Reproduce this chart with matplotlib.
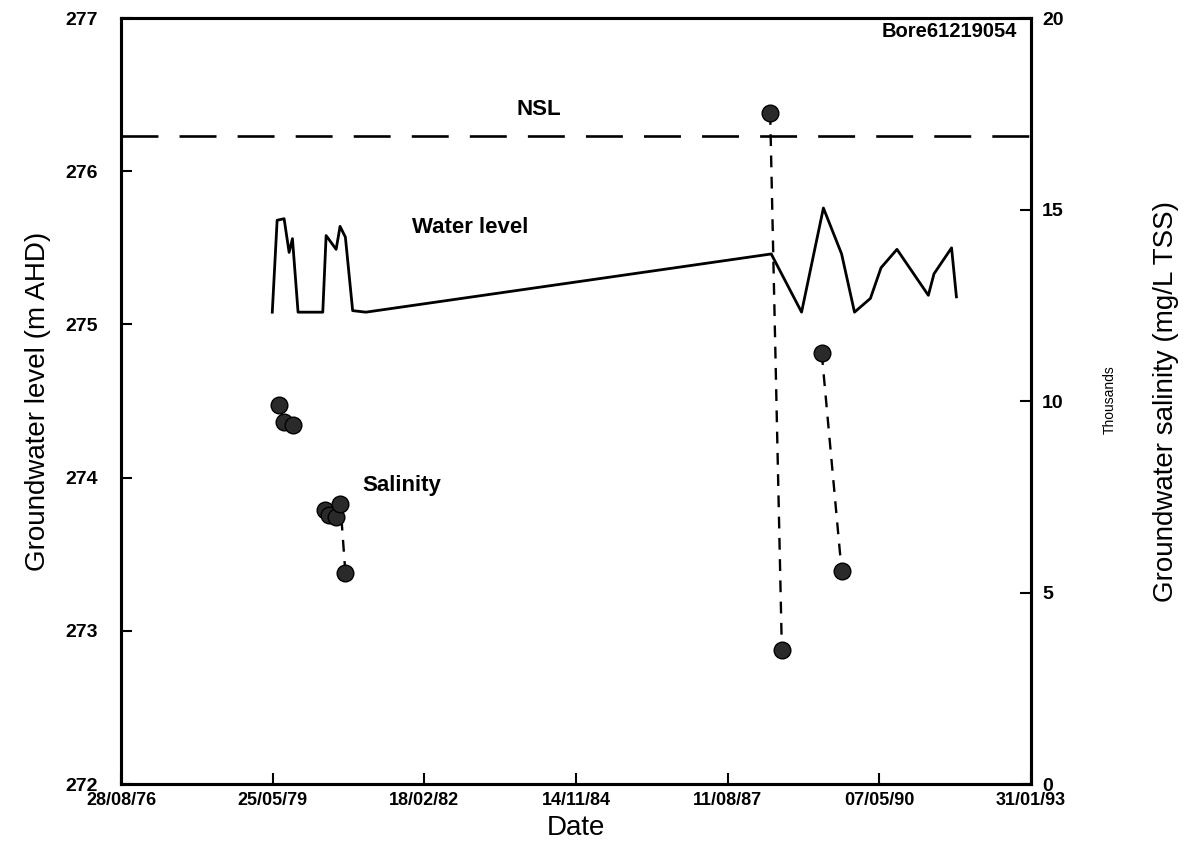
import matplotlib
matplotlib.use("Agg")
import matplotlib.pyplot as plt
import matplotlib.dates as mdates
import pandas as pd
import numpy as np

plt.rcParams['font.family'] = ['Liberation Sans', 'DejaVu Sans']

# water level (m AHD)
wl_dates = ['22/05/1979', '23/06/1979', '08/08/1979', '10/09/1979', '02/10/1979',
            '08/11/1979', '19/04/1980', '11/05/1980', '16/07/1980', '11/08/1980',
            '15/09/1980', '02/11/1980', '28/01/1981', '24/05/1988', '10/12/1988',
            '03/05/1989', '31/08/1989', '24/11/1989', '09/03/1990', '18/05/1990',
            '31/08/1990', '26/03/1991', '02/05/1991', '26/08/1991', '27/09/1991']
wl_values = [275.08, 275.68, 275.69, 275.47, 275.56,
             275.08, 275.08, 275.58, 275.49, 275.64,
             275.57, 275.09, 275.08, 275.46, 275.08,
             275.76, 275.46, 275.08, 275.17, 275.37,
             275.49, 275.19, 275.33, 275.50, 275.18]

# salinity (mg/L TSS), None = gap in the series
sal_dates = ['07/07/1979', '06/08/1979', '06/10/1979', '01/01/1980',
             '01/05/1980', '02/06/1980', '18/07/1980', '13/08/1980', '15/09/1980',
             '01/01/1988',
             '17/05/1988', '02/08/1988', '01/01/1989',
             '22/04/1989', '31/08/1989']
sal_values = [9900, 9460, 9370, None,
              7150, 7020, 6970, 7310, 5520,
              None,
              17520, 3500, None,
              11250, 5570]

nsl = 276.23

x_ticks = ['28/08/1976', '25/05/1979', '18/02/1982', '14/11/1984',
           '11/08/1987', '07/05/1990', '31/01/1993']

wl_x = pd.to_datetime(wl_dates, dayfirst=True)
sal_x = pd.to_datetime(sal_dates, dayfirst=True)
sal_y = np.array([np.nan if v is None else v / 1000 for v in sal_values])
tick_x = pd.to_datetime(x_ticks, dayfirst=True)

fig = plt.figure(figsize=(11.87, 8.5), dpi=100)
ax = fig.add_axes([0.102, 0.0776, 0.7666, 0.9012])
ax2 = ax.twinx()

ax.plot(wl_x, wl_values, color='black', lw=2.0, zorder=3)
ax.axhline(nsl, color='black', lw=1.9, dashes=(14, 8))

ax2.plot(sal_x, sal_y, color='black', lw=1.7, dashes=(5, 4),
         marker='o', markersize=12, markerfacecolor='#2a2a2a',
         markeredgecolor='black')

ax.set_xlim(tick_x[0], tick_x[-1])
ax.set_ylim(272, 277)
ax2.set_ylim(0, 20)
ax.set_xticks(tick_x)
ax.xaxis.set_major_formatter(mdates.DateFormatter('%d/%m/%y'))
ax.set_yticks(range(272, 278))
ax2.set_yticks(range(0, 21, 5))

for a in (ax, ax2):
    for s in a.spines.values():
        s.set_linewidth(2.2)
    a.tick_params(direction='in', length=8, width=1.5, labelsize=14)
    for lab in a.get_xticklabels() + a.get_yticklabels():
        lab.set_fontweight('bold')

ax.tick_params(axis='x', labelsize=13, pad=6)
ax.tick_params(axis='y', pad=17)
ax2.tick_params(axis='y', pad=8)

lab_font = ['Liberation Sans Narrow', 'Liberation Sans']
ax.set_xlabel('Date', fontsize=20, family=lab_font, labelpad=4)
ax.set_ylabel('Groundwater level (m AHD)', fontsize=20, family=lab_font, labelpad=10)
ax2.set_ylabel('Groundwater salinity (mg/L TSS)', fontsize=20, family=lab_font, labelpad=64)
fig.text(0.935, 0.53, 'Thousands', rotation=90, fontsize=10, family=lab_font,
         ha='center', va='center')

ax.text(0.985, 0.995, 'Bore61219054', transform=ax.transAxes, ha='right', va='top',
        fontsize=14.5, fontweight='bold')
ax.text(pd.Timestamp('1984-03-15'), 276.40, 'NSL', fontsize=16, fontweight='bold',
        ha='center', va='center')
ax.text(pd.Timestamp('1982-12-20'), 275.63, 'Water level', fontsize=16, fontweight='bold',
        ha='center', va='center')
ax.text(pd.Timestamp('1981-09-24'), 273.95, 'Salinity', fontsize=16, fontweight='bold',
        ha='center', va='center')

fig.savefig('out.png', dpi=100)
